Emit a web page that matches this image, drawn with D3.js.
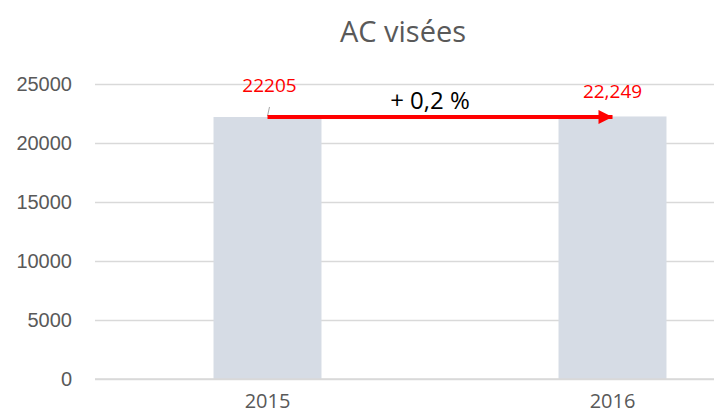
<!DOCTYPE html>
<html>
<head>
<meta charset="utf-8">
<script src="https://cdn.jsdelivr.net/npm/d3@7"></script>
<style>
  body { margin: 0; background: #fff; }
  svg { display: block; font-family: "Open Sans", sans-serif; }
  .grid line { stroke: #d9d9d9; stroke-width: 1.3; }
  .grid .domain { display: none; }
  .axis text { fill: #595959; font-size: 20px; }
</style>
</head>
<body>
<div id="chart"></div>
<script>
// data
const years = ["2015", "2016"];
const values = [22205, 22249];
const valueLabels = ["22205", "22,249"];
const yTicks = [0, 5000, 10000, 15000, 20000, 25000];
const changeLabel = "+ 0,2 %";

const W = 714, H = 416;
const margin = {top: 84, right: 0, bottom: 37, left: 95};

const svg = d3.select("#chart")
  .append("svg")
    .attr("width", W)
    .attr("height", H);

// the plot runs past the right edge (cropped chart)
const xScale = d3.scaleBand()
  .domain(years)
  .range([margin.left, 785])
  .paddingInner(0.687)
  .paddingOuter(0.3435);

const yScale = d3.scaleLinear()
  .domain([0, 25000])
  .range([H - margin.bottom, margin.top]);

// grid lines
svg.append("g")
    .attr("class", "grid")
    .attr("transform", "translate(" + margin.left + ",0)")
  .call(d3.axisLeft(yScale).tickValues(yTicks).tickSize(-(W - margin.left)).tickFormat(""));

// y labels
svg.append("g")
    .attr("class", "axis")
    .attr("transform", "translate(" + margin.left + ",0)")
  .call(d3.axisLeft(yScale).tickValues(yTicks).tickSize(0).tickPadding(23).tickFormat(d3.format("d")))
  .call(g => g.select(".domain").remove());

// bars
svg.selectAll("rect.bar")
  .data(values)
  .enter()
  .append("rect")
    .attr("class", "bar")
    .attr("x", (d, i) => xScale(years[i]))
    .attr("y", d => yScale(d))
    .attr("width", xScale.bandwidth())
    .attr("height", d => yScale(0) - yScale(d))
    .attr("fill", "#d6dce5");

// x axis baseline
svg.append("line")
    .attr("x1", margin.left).attr("x2", W)
    .attr("y1", yScale(0)).attr("y2", yScale(0))
    .attr("stroke", "#d9d9d9").attr("stroke-width", 1.3);

// x labels
svg.selectAll("text.year")
  .data(years)
  .enter()
  .append("text")
    .attr("class", "year")
    .attr("x", d => xScale(d) + xScale.bandwidth() / 2)
    .attr("y", yScale(0) + 29)
    .attr("text-anchor", "middle")
    .attr("fill", "#595959")
    .attr("font-size", 20)
    .text(d => d);

// title
svg.append("text")
    .attr("x", 403)
    .attr("y", 42)
    .attr("text-anchor", "middle")
    .attr("fill", "#595959")
    .attr("font-size", 29)
    .text("AC visées");

const cx = i => xScale(years[i]) + xScale.bandwidth() / 2;

// leader line for first label
svg.append("line")
    .attr("x1", cx(0)).attr("y1", yScale(values[0]) - 1)
    .attr("x2", cx(0) + 2).attr("y2", yScale(values[0]) - 10)
    .attr("stroke", "#a6a6a6").attr("stroke-width", 1);

// value labels
svg.append("text")
    .attr("x", cx(0) + 2)
    .attr("y", 92)
    .attr("text-anchor", "middle")
    .attr("fill", "#ff0000")
    .attr("font-size", 19)
    .text(valueLabels[0]);

svg.append("text")
    .attr("x", cx(1))
    .attr("y", 98)
    .attr("text-anchor", "middle")
    .attr("fill", "#ff0000")
    .attr("font-size", 19)
    .text(valueLabels[1]);

// arrow
svg.append("defs").append("marker")
    .attr("id", "head")
    .attr("viewBox", "0 0 10 10")
    .attr("refX", 10).attr("refY", 5)
    .attr("markerWidth", 4).attr("markerHeight", 3.5)
    .attr("markerUnits", "strokeWidth")
    .attr("orient", "auto")
  .append("path")
    .attr("d", "M0,0L10,5L0,10Z")
    .attr("fill", "#ff0000");

svg.append("line")
    .attr("x1", cx(0)).attr("y1", yScale(values[0]))
    .attr("x2", cx(1)).attr("y2", yScale(values[0]))
    .attr("stroke", "#ff0000").attr("stroke-width", 4)
    .attr("marker-end", "url(#head)");

svg.append("text")
    .attr("x", 430)
    .attr("y", 109)
    .attr("text-anchor", "middle")
    .attr("fill", "#000")
    .attr("font-size", 24)
    .text(changeLabel);
</script>
</body>
</html>
